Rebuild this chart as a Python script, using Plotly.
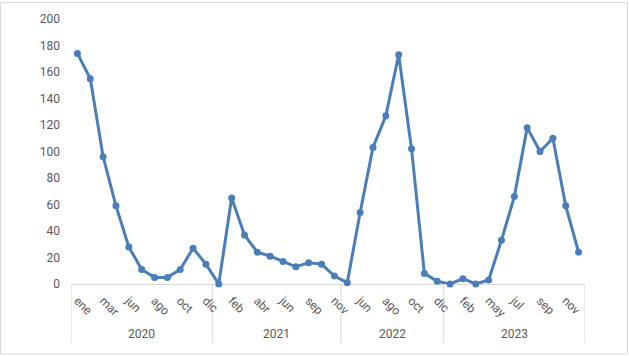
import plotly.graph_objects as go

years = ["2020", "2021", "2022", "2023"]
months_2020 = ["ene", "feb", "mar", "abr", "jun", "jul", "ago", "sep", "oct", "nov", "dic"]
months_2021 = ["ene", "feb", "mar", "abr", "may", "jun", "jul", "sep", "oct", "nov"]
months_2022 = ["may", "jun", "jul", "ago", "sep", "oct", "nov", "dic"]
months_2023 = ["ene", "feb", "mar", "may", "jun", "jul", "ago", "sep", "oct", "nov", "dic"]

values_2020 = [174, 155, 96, 59, 28, 11, 5, 5, 11, 27, 15]
values_2021 = [0, 65, 37, 24, 21, 17, 13, 16, 15, 6]
values_2022 = [1, 54, 103, 127, 173, 102, 8, 2]
values_2023 = [0, 4, 0, 3, 33, 66, 118, 100, 110, 59, 24]

y_ticks = [0, 20, 40, 60, 80, 100, 120, 140, 160, 180, 200]

month_groups = [months_2020, months_2021, months_2022, months_2023]
value_groups = [values_2020, values_2021, values_2022, values_2023]

months = [m for g in month_groups for m in g]
values = [v for g in value_groups for v in g]
idx = list(range(len(values)))

color = "#4a7ebb"
grid = "#d9d9d9"
txt = "#595959"
font_family = "Roboto, Liberation Sans, Arial, sans-serif"

fig = go.Figure()
fig.add_trace(go.Scatter(
    x=idx, y=values, mode="lines+markers",
    line=dict(color=color, width=3),
    marker=dict(color=color, size=7),
    cliponaxis=False,
    hoverinfo="skip",
))

shapes = []
annotations = []
start = 0
bounds = [-0.5]
for yr, g in zip(years, month_groups):
    n = len(g)
    center = start + (n - 1) / 2
    annotations.append(dict(
        x=center, y=-0.19, xref="x", yref="paper", text=yr, showarrow=False,
        font=dict(family=font_family, size=12, color=txt), yanchor="middle",
    ))
    start += n
    bounds.append(start - 0.5)
for b in bounds:
    shapes.append(dict(type="line", xref="x", yref="paper", x0=b, x1=b, y0=0, y1=-0.222,
                       line=dict(color=grid, width=1), layer="below"))
# chart area border
W, H = 629, 356
l, r, t, b = 71, 44, 17, 72
pw, ph = W - l - r, H - t - b
def px2x(px):
    return (px - l) / pw
def py2y(py):
    return (H - b - py) / ph
shapes.append(dict(type="rect", xref="paper", yref="paper",
                   x0=px2x(0.5), x1=px2x(627.5), y0=py2y(0.5), y1=py2y(354.5),
                   line=dict(color=grid, width=1), fillcolor="rgba(0,0,0,0)", layer="below"))

fig.update_layout(
    width=W, height=H,
    margin=dict(l=l, r=r, t=t, b=b),
    paper_bgcolor="white", plot_bgcolor="white",
    showlegend=False,
    shapes=shapes, annotations=annotations,
    xaxis=dict(
        range=[-0.5, len(values) - 0.5],
        tickmode="array",
        tickvals=idx[::2],
        ticktext=months[::2],
        tickangle=45,
        showgrid=False, zeroline=False,
        showline=True, linecolor=grid, linewidth=1,
        layer="below traces",
        ticks="", ticklabelstandoff=4,
        tickfont=dict(family=font_family, size=12, color=txt),
        fixedrange=True,
    ),
    yaxis=dict(
        range=[0, 200],
        tickmode="array", tickvals=y_ticks,
        showgrid=False, zeroline=False, showline=False,
        layer="below traces",
        ticks="", ticklabelstandoff=10,
        tickfont=dict(family=font_family, size=12, color=txt),
        fixedrange=True,
    ),
)

fig.write_html("out.html")
